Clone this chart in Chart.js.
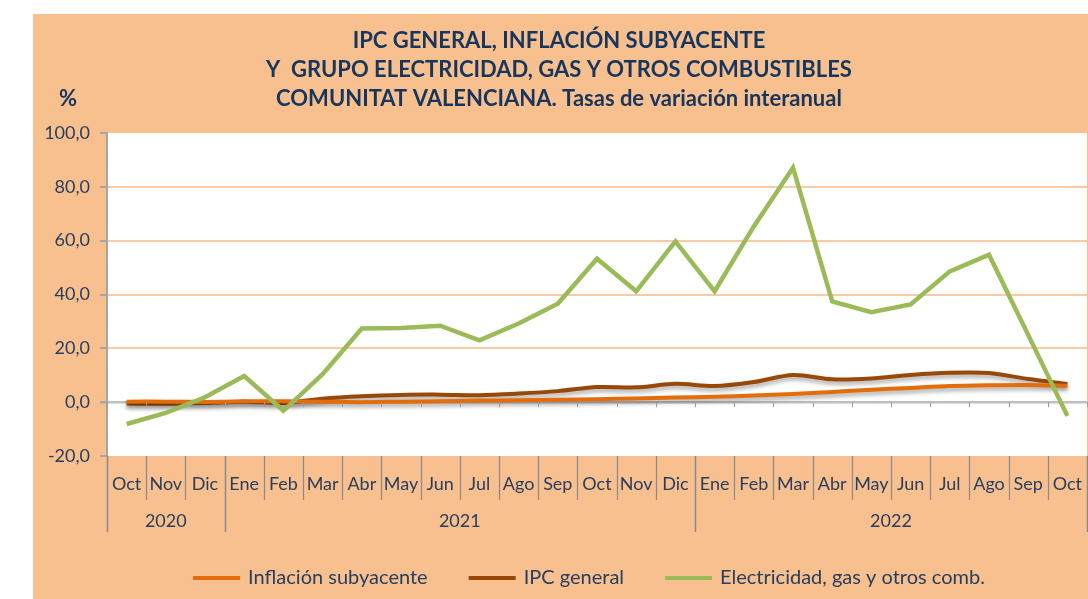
<!DOCTYPE html>
<html>
<head>
<meta charset="utf-8">
<script src="https://cdn.jsdelivr.net/npm/chart.js@4.4.0/dist/chart.umd.min.js"></script>
<style>
html, body { margin: 0; padding: 0; background: #fff; }
#grafico { display: block; }
</style>
</head>
<body>
<canvas id="grafico" width="1088" height="599"></canvas>
<script>
const meses = ['Oct', 'Nov', 'Dic', 'Ene', 'Feb', 'Mar', 'Abr', 'May', 'Jun', 'Jul', 'Ago', 'Sep',
    'Oct', 'Nov', 'Dic', 'Ene', 'Feb', 'Mar', 'Abr', 'May', 'Jun', 'Jul', 'Ago', 'Sep', 'Oct'];
const anios = ['2020', '2021', '2022'];
const mesesPorAnio = [3, 12, 10];

const subyacente = [0.2, 0.2, 0.1, 0.3, 0.3, 0.2, 0.0, 0.2, 0.3, 0.6, 0.7, 0.9,
    1.1, 1.4, 1.7, 2.0, 2.5, 3.0, 3.8, 4.6, 5.3, 6.0, 6.3, 6.4, 6.1];
const ipcGeneral = [-0.5, -0.6, -0.3, 0.2, -0.3, 1.3, 2.2, 2.7, 2.8, 2.6, 3.2, 4.1,
    5.6, 5.5, 6.8, 6.0, 7.5, 10.1, 8.5, 8.8, 10.1, 10.9, 10.8, 8.6, 6.8];
const electricidad = [-8.1, -4.0, 1.8, 9.7, -3.2, 10.4, 27.4, 27.6, 28.4, 23.0, 29.2, 36.6,
    53.3, 41.2, 59.7, 41.2, 65.3, 87.1, 37.4, 33.4, 36.3, 48.6, 54.8, 25.0, -5.1];

const tituloLineas = [
    'IPC GENERAL, INFLACIÓN SUBYACENTE',
    'Y  GRUPO ELECTRICIDAD, GAS Y OTROS COMBUSTIBLES',
    'COMUNITAT VALENCIANA. Tasas de variación interanual'
];

const fuente = 'Lato, "Open Sans", sans-serif';
const colorTexto = '#263f5e';

// fondo naranja y zona blanca del grafico
const fondo = {
    id: 'fondo',
    beforeDraw(chart) {
        const c = chart.ctx;
        const a = chart.chartArea;
        c.save();
        c.fillStyle = '#ffffff';
        c.fillRect(0, 0, chart.width, chart.height);
        c.fillStyle = '#f8bf8f';
        c.fillRect(33, 14, chart.width - 33, chart.height - 14);
        c.fillStyle = '#ffffff';
        c.fillRect(a.left, a.top, a.right - a.left, a.bottom - a.top);
        c.restore();
    }
};

// sombra en las lineas de IPC y subyacente
const sombra = {
    id: 'sombra',
    beforeDatasetDraw(chart, args) {
        const c = chart.ctx;
        c.save();
        if (args.index !== 2) {
            c.shadowColor = 'rgba(0,0,0,0.35)';
            c.shadowBlur = 4;
            c.shadowOffsetY = 3;
        }
    },
    afterDatasetDraw(chart) {
        chart.ctx.restore();
    }
};

const extras = {
    id: 'extras',
    afterDraw(chart) {
        const c = chart.ctx;
        const a = chart.chartArea;
        const x = chart.scales.x;
        const y = chart.scales.y;
        const ancho = x.getPixelForValue(1) - x.getPixelForValue(0);
        const y0 = y.getPixelForValue(0);
        c.save();

        // separadores de meses y años
        const inicios = [0];
        mesesPorAnio.forEach((n, i) => inicios.push(inicios[i] + n));
        for (let i = 0; i <= meses.length; i++) {
            const bx = Math.round(x.getPixelForValue(i) - ancho / 2) + 0.5;
            const esAnio = inicios.includes(i);
            c.strokeStyle = '#8a8a8a';
            c.lineWidth = esAnio ? 1.5 : 1.2;
            c.beginPath();
            c.moveTo(bx, a.bottom);
            c.lineTo(bx, a.bottom + (esAnio ? 76 : 44));
            c.stroke();
            // marcas pequeñas sobre el eje 0
            c.strokeStyle = '#9a9a9a';
            c.lineWidth = 1;
            c.beginPath();
            c.moveTo(bx, y0);
            c.lineTo(bx, y0 + 5);
            c.stroke();
        }

        c.fillStyle = colorTexto;
        c.font = '18px ' + fuente;
        c.textAlign = 'center';
        c.textBaseline = 'middle';
        anios.forEach((t, i) => {
            const cx = (x.getPixelForValue(inicios[i]) + x.getPixelForValue(inicios[i + 1] - 1)) / 2;
            c.fillText(t, cx, 521);
        });

        // titulo
        c.fillStyle = '#17365d';
        c.font = 'bold 22px ' + fuente;
        tituloLineas.forEach((t, i) => c.fillText(t, 559, 41 + i * 29));
        c.fillText('%', 68, 99);

        // leyenda
        const ds = chart.data.datasets;
        c.font = '20px ' + fuente;
        const anchos = ds.map(d => c.measureText(d.label).width);
        const total = anchos.reduce((s, w) => s + w + 55, 0) + 41 * (ds.length - 1);
        let lx = 589 - total / 2;
        c.textAlign = 'left';
        ds.forEach((d, i) => {
            c.strokeStyle = d.borderColor;
            c.lineWidth = 4;
            c.beginPath();
            c.moveTo(lx, 578);
            c.lineTo(lx + 47, 578);
            c.stroke();
            c.fillStyle = colorTexto;
            c.fillText(d.label, lx + 55, 578);
            lx += 55 + anchos[i] + 41;
        });
        c.restore();
    }
};

new Chart(document.querySelector('#grafico'), {
    type: 'line',
    data: {
        labels: meses,
        datasets: [
            {
                label: 'Inflación subyacente',
                data: subyacente,
                borderColor: '#e46c0a',
                borderWidth: 4,
                tension: 0.3,
                order: 1
            },
            {
                label: 'IPC general',
                data: ipcGeneral,
                borderColor: '#984807',
                borderWidth: 4,
                tension: 0.3,
                order: 2
            },
            {
                label: 'Electricidad, gas y otros comb.',
                data: electricidad,
                borderColor: '#9bbb59',
                borderWidth: 4.5,
                tension: 0,
                order: 0
            }
        ]
    },
    options: {
        responsive: false,
        animation: false,
        layout: {
            padding: { top: 133, left: 0, right: 1, bottom: 0 }
        },
        elements: {
            point: { radius: 0, hoverRadius: 0 }
        },
        plugins: {
            legend: { display: false },
            title: { display: false },
            tooltip: { enabled: false }
        },
        scales: {
            x: {
                offset: true,
                afterFit(scale) { scale.height = 143; },
                grid: {
                    drawOnChartArea: false,
                    drawTicks: true,
                    tickLength: 17,
                    tickColor: 'rgba(0,0,0,0)',
                    color: 'rgba(0,0,0,0)'
                },
                border: { display: false },
                ticks: {
                    autoSkip: false,
                    maxRotation: 0,
                    padding: 0,
                    color: colorTexto,
                    font: { family: fuente, size: 18 }
                }
            },
            y: {
                min: -20,
                max: 100,
                afterFit(scale) { scale.width = 107; },
                ticks: {
                    stepSize: 20,
                    padding: 10,
                    color: colorTexto,
                    font: { family: fuente, size: 18 },
                    callback: v => v.toFixed(1).replace('.', ',')
                },
                grid: {
                    tickLength: 7,
                    tickColor: '#a6a6a6',
                    color: ctx => {
                        const v = ctx.tick.value;
                        if (v === 0) return '#bfbfbf';
                        if (v === -20 || v === 100) return 'rgba(0,0,0,0)';
                        return '#f9caa3';
                    },
                    lineWidth: ctx => ctx.tick.value === 0 ? 2.5 : 2
                },
                border: { color: '#a6a6a6', width: 2 }
            }
        }
    },
    plugins: [fondo, sombra, extras]
});
</script>
</body>
</html>
